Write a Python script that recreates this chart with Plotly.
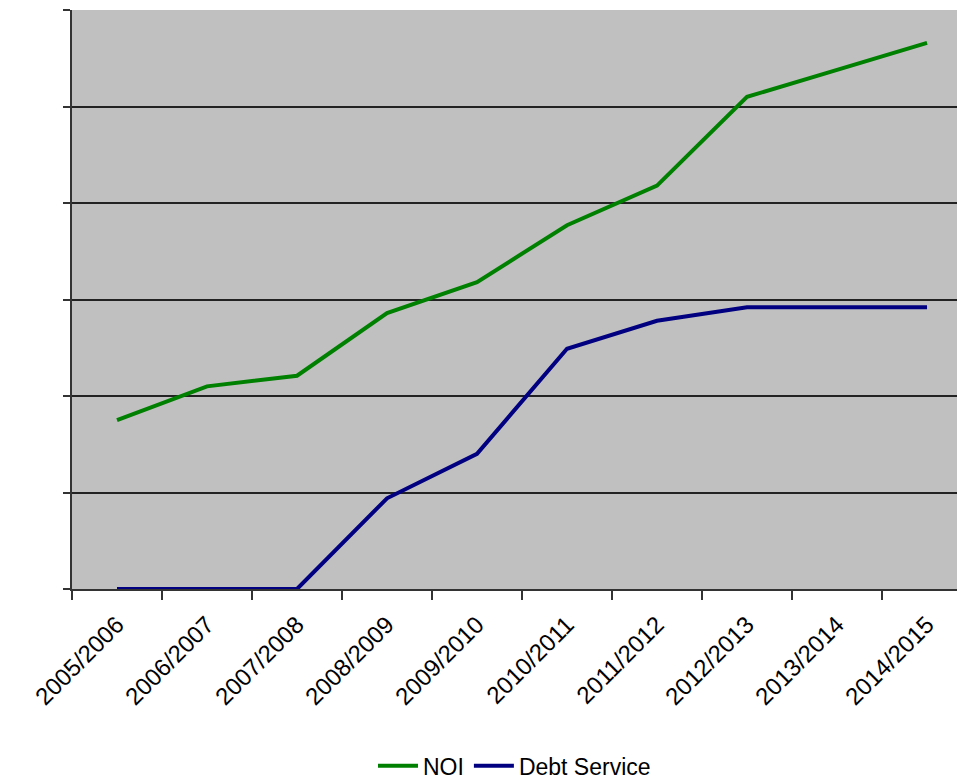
import plotly.graph_objects as go

years = ["2005/2006", "2006/2007", "2007/2008", "2008/2009", "2009/2010",
         "2010/2011", "2011/2012", "2012/2013", "2013/2014", "2014/2015"]
noi = [1.75, 2.10, 2.21, 2.86, 3.18, 3.77, 4.18, 5.10, 5.38, 5.66]
debt_service = [0, 0, 0, 0.94, 1.40, 2.49, 2.78, 2.92, 2.92, 2.92]

fig = go.Figure()
fig.add_trace(go.Scatter(x=years, y=noi, mode="lines", name="NOI",
                         line=dict(color="#008000", width=4)))
fig.add_trace(go.Scatter(x=years, y=debt_service, mode="lines", name="Debt Service",
                         line=dict(color="#000080", width=4)))

fig.update_layout(
    width=957, height=779,
    margin=dict(l=72, r=0, t=10, b=190),
    paper_bgcolor="white",
    plot_bgcolor="#C0C0C0",
    font=dict(family="Liberation Sans, Arial, sans-serif", size=23, color="black"),
    showlegend=True,
    legend=dict(orientation="h", x=0.5, xanchor="center", yref="container",
                y=0.017, yanchor="middle", font=dict(size=23), itemwidth=40),
    xaxis=dict(type="category", range=[-0.5, 9.333], tickangle=-45,
               tickson="boundaries", ticks="outside", ticklen=9, tickwidth=1.5,
               tickcolor="#333", showline=True, linecolor="#333", linewidth=2,
               showgrid=False, tickfont=dict(size=24), ticklabelstandoff=10),
    yaxis=dict(range=[0, 6], dtick=1, showticklabels=False, ticks="outside",
               ticklen=7, tickwidth=1.5, tickcolor="#333", showline=True,
               linecolor="#333", linewidth=2, showgrid=True, gridcolor="#222",
               gridwidth=1.5, zeroline=False),
)

fig.write_html("out.html")
